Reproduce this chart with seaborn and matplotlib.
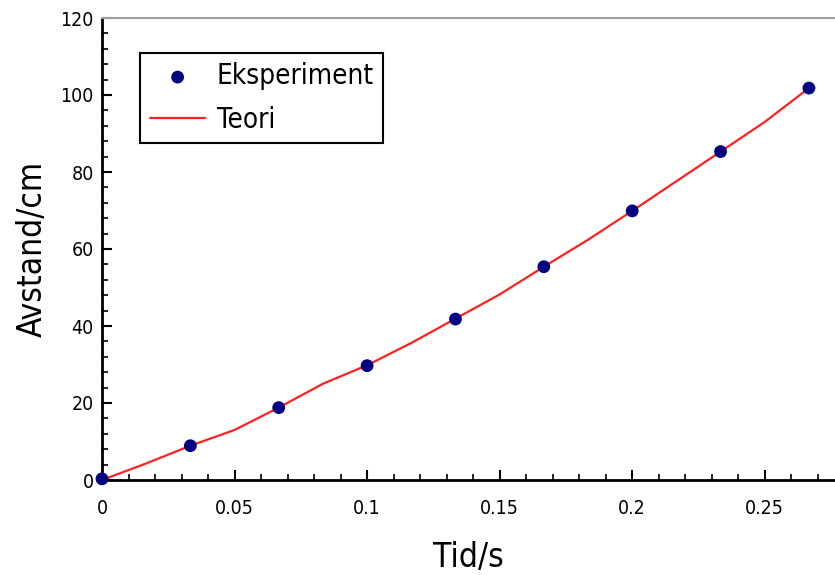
import matplotlib
matplotlib.use("Agg")
import matplotlib.pyplot as plt
import seaborn as sns
import pandas as pd
from matplotlib.ticker import MultipleLocator

# Experimental data
exp_t = [0.0, 1/30, 2/30, 3/30, 4/30, 5/30, 6/30, 7/30, 8/30]
exp_y = [0.3, 8.9, 18.8, 29.7, 41.8, 55.4, 69.9, 85.3, 101.8]

# Theory curve
teo_t = [0.0, 1/60, 2/60, 3/60, 4/60, 5/60, 6/60, 7/60, 8/60, 9/60,
         10/60, 11/60, 12/60, 13/60, 14/60, 15/60, 16/60]
teo_y = [0.0, 4.3, 8.9, 13.0, 18.8, 25.0, 29.8, 35.6, 41.9, 48.2,
         55.4, 62.4, 69.9, 77.6, 85.3, 93.0, 101.8]

x_ticks = [0, 0.05, 0.1, 0.15, 0.2, 0.25]
x_ticklabels = ["0", "0.05", "0.1", "0.15", "0.2", "0.25"]
y_ticks = [0, 20, 40, 60, 80, 100, 120]

sns.set_theme(style="white")
plt.rcParams['font.family'] = ['DejaVu Sans']
plt.rcParams['font.stretch'] = 'condensed'
plt.rcParams['text.color'] = 'black'
plt.rcParams['axes.labelcolor'] = 'black'
plt.rcParams['xtick.color'] = 'black'
plt.rcParams['ytick.color'] = 'black'

fig = plt.figure(figsize=(8.35, 5.75), dpi=100)
ax = fig.add_axes([102/835, 95/575, 1 - 102/835, 462/575])

df_exp = pd.DataFrame({"t": exp_t, "y": exp_y})
df_teo = pd.DataFrame({"t": teo_t, "y": teo_y})

sns.lineplot(data=df_teo, x="t", y="y", ax=ax, color="#ff2020", linewidth=1.6,
             label="Teori", sort=False, zorder=2)
sns.scatterplot(data=df_exp, x="t", y="y", ax=ax, color="#000080", s=85,
                edgecolor="none", label="Eksperiment", zorder=3, clip_on=False)

ax.set_xlim(0, 0.2765)
ax.set_ylim(0, 120)
ax.set_xticks(x_ticks)
ax.set_xticklabels(x_ticklabels)
ax.set_yticks(y_ticks)
ax.xaxis.set_minor_locator(MultipleLocator(0.01))
ax.yaxis.set_minor_locator(MultipleLocator(4))

ax.tick_params(which="major", direction="in", length=7, width=1.5, color="black",
               labelsize=14, pad=14, bottom=True, left=True, top=False, right=False)
ax.tick_params(which="minor", direction="in", length=4, width=1.2, color="black",
               bottom=True, left=True, top=False, right=False)
ax.tick_params(axis="y", pad=6)

for side in ["left", "bottom"]:
    ax.spines[side].set_color("black")
    ax.spines[side].set_linewidth(2)
ax.spines["top"].set_color("#a0a0a0")
ax.spines["top"].set_linewidth(1.5)
ax.spines["right"].set_visible(False)

ax.set_xlabel("Tid/s", fontsize=24, labelpad=16)
ax.set_ylabel("Avstand/cm", fontsize=24, labelpad=8)

handles, labels = ax.get_legend_handles_labels()
order = [labels.index("Eksperiment"), labels.index("Teori")]
leg = ax.legend([handles[i] for i in order], [labels[i] for i in order],
                loc="upper left", bbox_to_anchor=(0.052, 0.925), fontsize=20,
                frameon=True, fancybox=False, framealpha=1, borderpad=0.35,
                handlelength=2.0, handletextpad=0.4, labelspacing=0.55,
                borderaxespad=0)
leg.get_frame().set_edgecolor("black")
leg.get_frame().set_linewidth(1.5)

fig.savefig("out.png", dpi=100)
